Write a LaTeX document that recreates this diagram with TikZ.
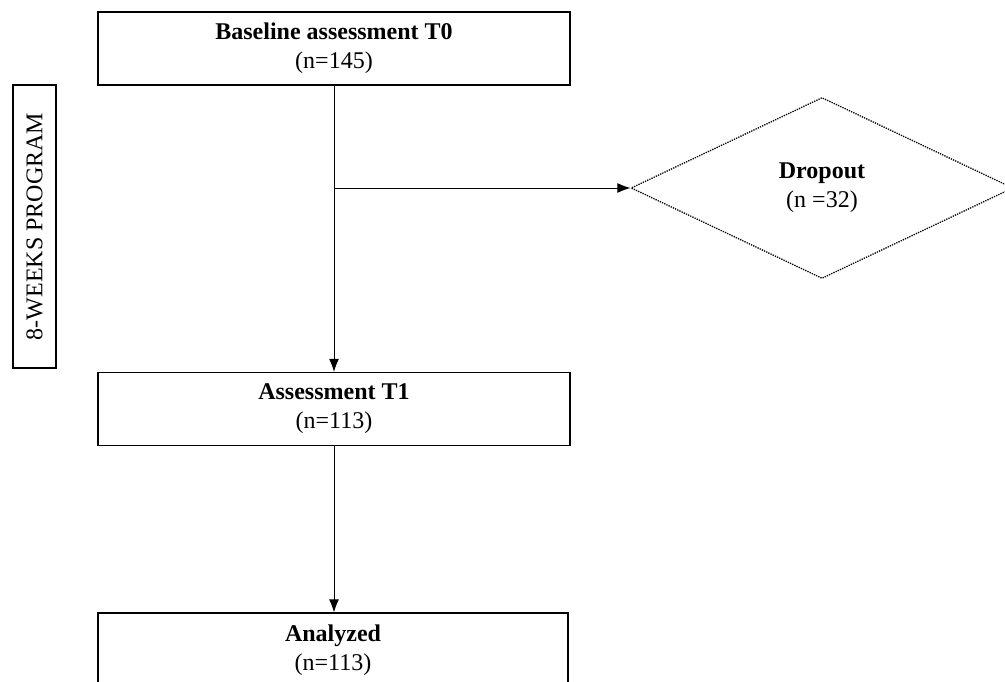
\documentclass[tikz,border=0pt]{standalone}
\usepackage{fontspec}
\setmainfont{Liberation Serif}
\usetikzlibrary{shapes.geometric,arrows.meta}
\begin{document}
\begin{tikzpicture}[x=1pt,y=-1pt,
  stagebox/.style={draw,line width=1.3pt,minimum width=472pt,inner sep=0pt,align=center,
    font=\fontsize{24}{29}\selectfont},
  sidebox/.style={draw,line width=1.3pt,inner sep=0pt,rotate=90,minimum width=283pt,minimum height=43pt,
    font=\fontsize{24}{29}\selectfont},
  dropbox/.style={draw,diamond,line width=1.3pt,dash pattern=on 1.3pt off 1.1pt,inner sep=0pt,
    minimum width=382pt,minimum height=181pt,align=center,font=\fontsize{24}{29}\selectfont},
  flow/.style={line width=0.9pt,-{Latex[length=13pt,width=10pt]}}]
\useasboundingbox (0,0) rectangle (1005,682);
\clip (0,0) rectangle (1005,682);
\node[stagebox,minimum height=73pt] (b0) at (334,48.5) {\textbf{Baseline assessment T0}\\(n=145)};
\node[stagebox,minimum height=73pt] (t1) at (334,409) {\textbf{Assessment T1}\\(n=113)};
\node[stagebox,minimum height=74pt,minimum width=470pt] (an) at (333,650) {\textbf{Analyzed}\\(n=113)};
\node[sidebox] (side) at (34.5,226.5) {8-WEEKS PROGRAM};
\node[dropbox] (drop) at (822,188) {\textbf{Dropout}\\(n =32)};
\coordinate (br) at (334,188);
\draw[flow] (b0) -- (t1);
\draw[flow] (br) -- (drop.west);
\draw[flow] (t1.south) -- (t1.south |- an.north);
\end{tikzpicture}
\end{document}
